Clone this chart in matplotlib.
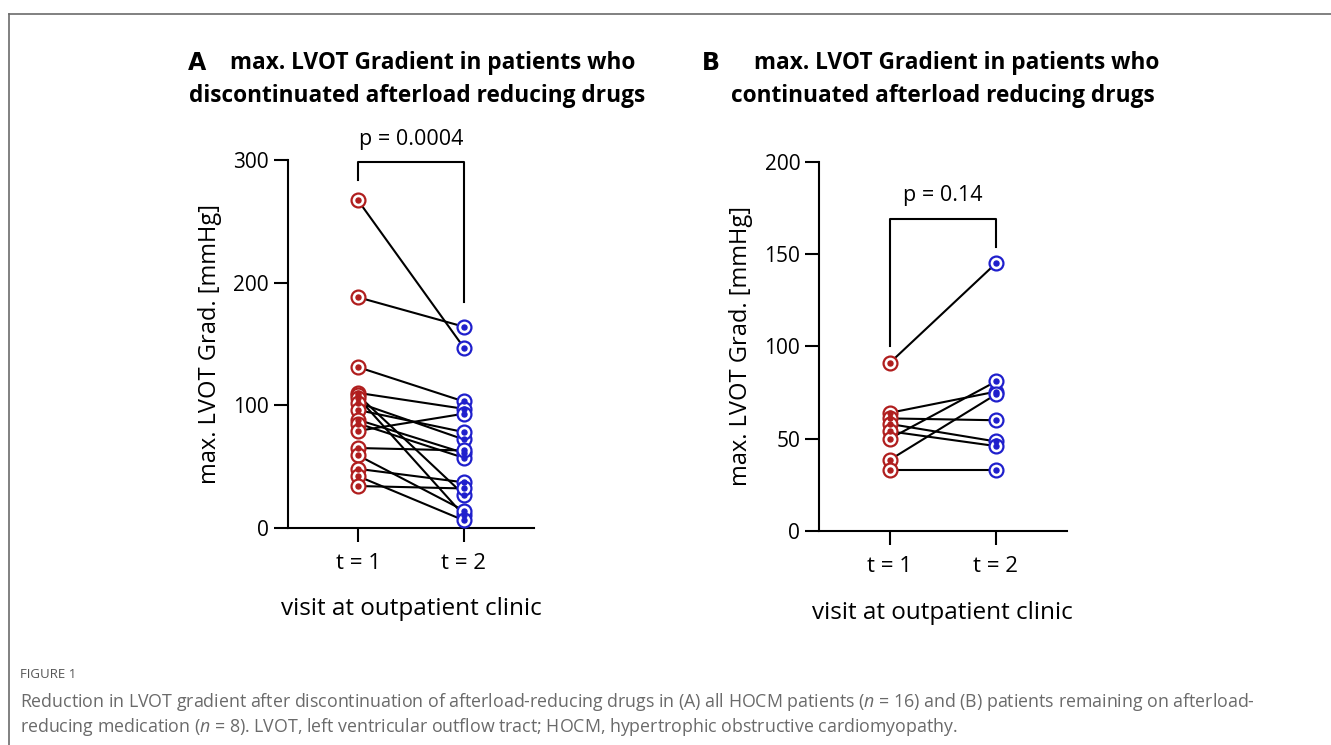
import matplotlib
matplotlib.use("Agg")
import matplotlib.pyplot as plt
from matplotlib.lines import Line2D

plt.rcParams['font.family'] = ['Open Sans', 'DejaVu Sans']
plt.rcParams['mathtext.fontset'] = 'custom'
plt.rcParams['mathtext.it'] = 'Open Sans:italic'
plt.rcParams['mathtext.rm'] = 'Open Sans'

# Panel A: discontinued afterload reducing drugs (t=1 -> t=2, paired)
a_t1 = [267, 188, 131, 110, 108, 106, 102, 96, 88, 85, 79, 65, 59, 48, 42, 34]
a_t2 = [147, 164, 103, 97, 27, 10, 72, 78, 61, 57, 93, 63, 14, 37, 6, 32]
a_p = "p = 0.0004"

# Panel B: continued afterload reducing drugs
b_t1 = [91, 64, 61, 58, 54, 50, 38.5, 33]
b_t2 = [145, 75.5, 60, 48.5, 46, 81, 74, 33]
b_p = "p = 0.14"

visits = [1, 2]
visit_labels = ["t = 1", "t = 2"]

red = '#B01E1E'
blue = '#1F1FCC'

fig = plt.figure(figsize=(13.31, 7.45), dpi=100)


def panel(rect, t1, t2, ymax, yticks, p_text, bracket, title_lines, title_x, letter, letter_x):
    ax = fig.add_axes(rect)
    for v1, v2 in zip(t1, t2):
        ax.plot(visits, [v1, v2], color='black', lw=1.5, zorder=2)
    for vals, x, c in [(t1, 1, red), (t2, 2, blue)]:
        xs = [x] * len(vals)
        ax.scatter(xs, vals, s=100, facecolor='white', edgecolor=c, linewidth=1.6, zorder=3)
        ax.scatter(xs, vals, s=13, color=c, zorder=4)
    ax.set_xlim(0.335, 2.665)
    ax.set_ylim(0, ymax)
    ax.set_yticks(yticks)
    ax.set_xticks(visits)
    ax.set_xticklabels(visit_labels, fontsize=16)
    ax.tick_params(axis='y', labelsize=15, length=10, width=1.5, pad=3.5)
    ax.tick_params(axis='x', length=10, width=1.5, pad=8)
    for s in ['top', 'right']:
        ax.spines[s].set_visible(False)
    for s in ['left', 'bottom']:
        ax.spines[s].set_linewidth(1.5)
    ax.set_ylabel("max. LVOT Grad. [mmHg]", fontsize=17, labelpad=8)
    ax.set_xlabel("visit at outpatient clinic", fontsize=17.5, labelpad=17)
    # significance bracket
    top, left_end, right_end = bracket
    ax.plot([1, 1, 2, 2], [left_end, top, top, right_end], color='black', lw=1.5,
            clip_on=False, zorder=2)
    ax.annotate(p_text, xy=(1.5, top), xytext=(0, 9), textcoords='offset points',
                ha='center', va='bottom', fontsize=15.5, annotation_clip=False)
    # title
    fig.text(title_x[0] / 1331, 1 - 63 / 745, title_lines[0], ha='center', va='center',
             fontsize=16.3, fontweight='bold')
    fig.text(title_x[1] / 1331, 1 - 96 / 745, title_lines[1], ha='center', va='center',
             fontsize=16.3, fontweight='bold')
    fig.text(letter_x, 1 - 63 / 745, letter, ha='left', va='center', fontsize=17,
             fontweight='bold', family='DejaVu Sans')
    return ax


panel([0.2162, 0.2917, 0.1851, 0.4935], a_t1, a_t2, 300, [0, 100, 200, 300], a_p,
      (298, 284, 184),
      ["max. LVOT Gradient in patients who", "discontinuated afterload reducing drugs"],
      (433, 417.5), "A", 0.141)
panel([0.6153, 0.2872, 0.1861, 0.4957], b_t1, b_t2, 200, [0, 50, 100, 150, 200], b_p,
      (169, 100, 154),
      ["max. LVOT Gradient in patients who", "continuated afterload reducing drugs"],
      (957, 943), "B", 0.527)

# frame of the figure box
fig.add_artist(Line2D([9 / 1331, 1.0], [1 - 14 / 745, 1 - 14 / 745], color='#6b6b6b', lw=1.2))
fig.add_artist(Line2D([9 / 1331, 9 / 1331], [0.0, 1 - 14 / 745], color='#6b6b6b', lw=1.2))

# caption
fig.text(20 / 1331, 1 - 674 / 745, "FIGURE 1", fontsize=9.5, color='#555555',
         va='center', ha='left')
fig.text(20 / 1331, 1 - 702 / 745,
         "Reduction in LVOT gradient after discontinuation of afterload-reducing drugs in (A) all HOCM patients "
         "($n$ = 16) and (B) patients remaining on afterload-",
         fontsize=12.8, color='#6a6a6a', va='center', ha='left')
fig.text(20 / 1331, 1 - 727 / 745,
         "reducing medication ($n$ = 8). LVOT, left ventricular outflow tract; HOCM, hypertrophic obstructive cardiomyopathy.",
         fontsize=12.8, color='#6a6a6a', va='center', ha='left')

fig.savefig("out.png", dpi=100)
